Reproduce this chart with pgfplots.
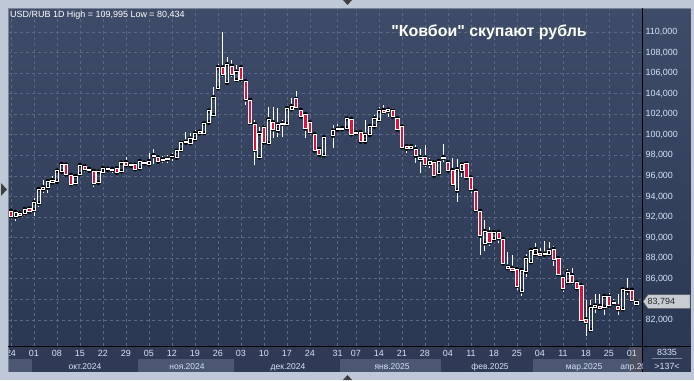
\documentclass[border=0pt]{standalone}
\usepackage{fontspec}
\setmainfont{Liberation Sans}
\usepackage{pgfplots}
\usepackage{pgfplotstable}
\pgfplotsset{compat=1.18}
\definecolor{outergray}{RGB}{190,200,214}
\definecolor{framegray}{RGB}{120,132,152}
\definecolor{bgtop}{RGB}{63,76,105}
\definecolor{bgbot}{RGB}{43,56,84}
\definecolor{gridc}{RGB}{90,104,134}
\definecolor{candred}{RGB}{222,18,58}
\definecolor{rowdark}{RGB}{47,59,86}
\definecolor{rowlight}{RGB}{75,87,115}
\definecolor{aprcol}{RGB}{78,80,98}
\definecolor{ticktext}{RGB}{212,226,246}
\definecolor{pricebox}{RGB}{200,204,211}

\pgfplotstableread{
i o h l c
0 92.60 92.70 92.00 92.11
1 92.05 92.60 91.66 92.50
2 92.37 92.45 92.10 92.17
3 92.37 92.95 92.11 92.79
4 92.86 93.08 92.30 92.53
5 92.69 93.83 92.11 93.44
6 93.34 94.80 93.02 94.73
7 94.70 95.61 94.32 94.90
8 94.87 95.61 94.32 95.51
9 95.35 96.03 95.12 95.61
10 95.45 96.60 95.40 96.52
11 96.42 97.30 96.26 97.17
12 97.10 97.23 95.93 96.13
13 96.10 96.26 95.03 95.19
14 95.29 96.05 95.20 96.00
15 96.16 97.15 96.10 97.07
16 96.94 97.13 96.42 96.65
17 96.52 96.90 96.42 96.68
18 96.49 96.52 94.90 95.29
19 95.35 96.58 95.22 96.42
20 96.39 96.90 96.26 96.78
21 96.62 96.75 96.55 96.71
22 96.58 96.70 96.26 96.68
23 96.74 96.80 96.25 96.32
24 96.45 97.35 96.40 97.30
25 97.36 97.81 96.97 97.04
26 97.00 97.23 96.84 97.10
27 97.10 97.15 96.60 96.65
28 96.74 97.62 96.68 97.46
29 97.20 97.35 97.15 97.30
30 97.13 98.20 97.07 97.46
31 97.94 98.59 97.13 98.04
32 97.81 97.94 97.29 97.39
33 97.55 97.94 97.23 97.62
34 97.62 98.04 97.23 97.68
35 97.88 98.20 97.49 97.94
36 97.78 98.50 97.70 98.46
37 98.53 99.50 98.46 99.24
38 99.24 100.31 99.18 99.34
39 99.18 100.20 99.18 99.63
40 99.56 100.47 99.50 100.15
41 100.15 100.47 100.00 100.30
42 100.15 101.28 99.99 101.12
43 101.19 102.48 101.06 102.35
44 101.93 104.69 101.77 103.65
45 104.52 106.90 104.40 106.57
46 106.57 110.00 105.60 105.90
47 105.07 107.54 105.00 106.86
48 106.70 107.28 105.66 105.92
49 105.33 106.80 105.17 106.14
50 106.57 106.70 105.17 105.40
51 105.20 105.20 102.90 103.45
52 103.39 103.55 100.90 101.12
53 101.02 101.45 97.07 98.53
54 97.81 100.80 97.72 100.15
55 100.70 100.96 99.04 99.24
56 99.18 102.70 99.12 101.51
57 101.22 102.67 99.67 100.54
58 100.41 102.64 99.83 101.00
59 101.05 101.45 99.76 101.12
60 101.06 102.70 100.90 102.58
61 102.50 103.62 102.42 102.80
62 103.50 104.26 102.58 102.68
63 102.42 102.58 101.54 101.77
64 102.03 102.10 99.67 100.60
65 101.22 101.45 99.99 100.25
66 100.05 100.15 98.27 98.46
67 98.60 98.85 97.90 98.05
68 97.98 99.76 97.72 99.76
70 99.92 101.00 98.69 100.41
71 100.50 101.10 100.30 100.60
72 100.55 100.70 100.47 100.65
73 100.63 101.85 100.47 101.60
74 101.54 101.77 99.90 100.05
75 100.15 100.25 100.10 100.22
76 100.25 100.47 99.24 99.34
77 99.34 101.44 99.24 100.00
78 100.00 100.90 99.90 100.86
79 100.80 101.93 100.73 101.60
80 101.44 102.74 101.44 102.35
81 102.42 102.90 101.93 102.20
82 102.30 102.50 101.77 102.45
83 102.35 102.58 101.70 101.77
84 101.60 101.77 100.47 100.50
85 100.80 100.80 98.69 98.80
86 98.90 99.08 98.20 98.65
87 98.70 99.10 98.60 98.90
88 98.60 99.00 97.23 97.97
89 97.62 98.60 96.32 97.81
90 97.80 99.00 96.90 97.17
91 97.17 97.72 96.74 97.40
92 97.33 97.56 95.93 96.03
93 96.26 97.60 96.10 97.46
94 97.75 99.10 97.40 97.85
95 97.33 97.56 96.42 96.52
96 96.58 97.72 94.96 95.19
97 94.57 97.62 93.50 96.65
98 96.52 97.39 95.93 97.13
99 97.23 97.46 95.77 95.84
100 95.87 96.10 94.32 94.70
101 94.54 94.57 92.53 92.69
102 92.60 92.60 88.32 90.20
103 89.45 91.72 88.74 90.65
104 90.52 91.00 89.22 89.55
105 89.84 90.58 89.78 90.55
106 90.55 90.65 89.52 89.94
107 89.84 89.94 87.35 87.51
108 87.02 88.64 86.93 87.18
109 87.06 88.32 86.80 86.83
110 86.93 86.93 84.92 85.30
111 84.80 87.03 84.37 86.86
112 86.70 88.42 86.21 88.00
113 87.61 88.87 87.60 88.81
114 88.42 89.45 88.22 88.90
115 88.50 88.97 88.09 88.32
116 88.35 89.68 88.25 88.45
117 88.40 89.60 88.30 88.74
118 88.90 89.20 87.28 87.93
119 87.99 88.03 86.37 86.47
120 86.15 86.21 84.76 85.08
121 85.66 87.00 85.57 86.60
122 86.37 87.09 85.40 85.66
123 85.63 85.73 84.92 85.08
124 85.37 85.40 81.90 82.00
125 82.06 83.95 80.43 81.80
126 81.03 83.95 80.97 83.23
127 83.23 84.50 82.65 83.40
128 83.36 84.50 83.04 83.14
129 83.23 84.50 82.49 84.34
130 84.27 84.66 83.23 83.40
131 83.60 84.00 83.36 83.70
132 83.30 84.50 82.49 83.04
133 83.04 85.18 82.97 84.98
134 84.86 86.05 84.43 84.92
135 84.92 85.08 83.88 83.95
136 83.55 84.00 83.45 83.79
}\candles

\begin{document}
\begin{tikzpicture}[x=1bp,y=1bp]
\useasboundingbox (0,0) rectangle (694,380);
\fill[outergray] (0,0) rectangle (694,380);
% bottom rows
\fill[rowdark] (8,8) rectangle (691,34);
\fill[rowlight] (8,8) rectangle (31.7,21);
\fill[rowlight] (137.5,8) rectangle (234,21);
\fill[rowlight] (340,8) rectangle (441,21);
\fill[rowlight] (533,8) rectangle (630,21);
\fill[aprcol] (630,8) rectangle (642,34);
% right panel
\shade[top color=bgtop, bottom color=bgbot] (642,34) rectangle (691,372);

\begin{axis}[
  at={(8bp,34bp)}, anchor=south west,
  scale only axis, width=634bp, height=338bp,
  xmin=-0.65, xmax=137.2, ymin=79.47, ymax=112.33,
  axis line style={draw=none},
  axis background/.style={shade, top color=bgtop, bottom color=bgbot},
  major tick length=0pt,
  grid=major,
  major grid style={gridc, dash pattern=on 3bp off 3bp, line width=0.7bp},
  xtick={0,5,10,15,20,25,30,35,40,45,50,55,60,65,71,75,80,85,90,95,100,105,110,115,120,125,130,135},
  xticklabels={24,01,08,15,22,29,05,12,19,26,03,10,17,24,31,07,14,21,28,04,11,18,25,04,11,18,25,01},
  xticklabel style={anchor=base, yshift=-10.5bp, font=\fontsize{9}{10}\selectfont, text=ticktext},
  ytick={82,84,...,110},
  yticklabels={{82,000},{},{86,000},{88,000},{90,000},{92,000},{94,000},{96,000},{98,000},{100,000},{102,000},{104,000},{106,000},{108,000},{110,000}},
  yticklabel pos=right,
  yticklabel style={anchor=west, font=\fontsize{9}{10}\selectfont, text=ticktext},
]
\addplot[only marks, mark=none, error bars/.cd, y dir=plus, y explicit, error mark=none,
  error bar style={draw=white, line width=0.8bp, solid}]
  table[x=i, y expr={max(\thisrow{o},\thisrow{c})}, y error expr={\thisrow{h}-max(\thisrow{o},\thisrow{c})}] {\candles};
\addplot[only marks, mark=none, error bars/.cd, y dir=minus, y explicit, error mark=none,
  error bar style={draw=white, line width=0.8bp, solid}]
  table[x=i, y expr={min(\thisrow{o},\thisrow{c})}, y error expr={min(\thisrow{o},\thisrow{c})-\thisrow{l}}] {\candles};
\end{axis}

\begin{axis}[
  at={(8bp,34bp)}, anchor=south west,
  scale only axis, width=634bp, height=338bp,
  xmin=-0.65, xmax=137.2, ymin=79.47, ymax=112.33,
  hide axis, ybar stacked, bar width=3.2bp,
]
\addplot[draw=none, fill=none] table[x=i, y expr={min(\thisrow{o},\thisrow{c})}] {\candles};
\addplot[draw=white, fill=candred, line width=0.8bp] table[x=i, y expr={max(\thisrow{o}-\thisrow{c},0)}] {\candles};
\addplot[draw=white, fill=none, line width=0.8bp] table[x=i, y expr={max(\thisrow{c}-\thisrow{o},0)}] {\candles};
\end{axis}

% left gray strip and frame lines
\fill[outergray] (0,0) rectangle (8,380);
\fill[outergray] (0,372) rectangle (694,380);
\fill[outergray] (691,0) rectangle (694,380);
\draw[framegray, line width=0.8bp] (8,8) -- (8,372) -- (691,372);
\draw[black, line width=1bp] (642,8) -- (642,372);
\draw[black, line width=1bp] (8,34) -- (691,34);

% month labels
\begin{scope}
\clip (8,8) rectangle (642,21);
\foreach \xx/\tt in {85/окт.2024, 187/ноя.2024, 288/дек.2024, 392/янв.2025, 490/фев.2025, 584/мар.2025, 638/апр.2025}
  \node[text=ticktext, font=\fontsize{8.5}{9}\selectfont, anchor=base] at (\xx,11) {\tt};
\end{scope}

% right bottom cell
\node[text=ticktext, font=\fontsize{9}{10}\selectfont, anchor=base] at (667,24.5) {8335};
\draw[framegray, line width=0.6bp] (652,21.5) -- (682,21.5);
\node[text=ticktext, font=\fontsize{9}{10}\selectfont, anchor=base] at (667,10.5) {>137<};

% price label
\filldraw[fill=pricebox, draw=gray!70!black, line width=0.5bp] (643,78.4) -- (648,85.4) -- (690,85.4) -- (690,71.4) -- (648,71.4) -- cycle;
\node[text=black!85, font=\fontsize{9}{10}\selectfont, anchor=west, inner sep=0pt] at (647.5,78.4) {83,794};

% titles
\node[text=white, font=\fontsize{9}{10}\selectfont, anchor=west, inner sep=0pt] at (10,365) {USD/RUB 1D High = 109,995 Low = 80,434};
\node[text=white, font=\bfseries\fontsize{16}{18}\selectfont, anchor=center, inner sep=0pt] at (489,348) {\textquotedbl Ковбои\textquotedbl{} скупают рубль};

% crosshair pointers
\fill[black!75] (1,184) -- (7,190.5) -- (1,197) -- cycle;
\fill[black!75] (343,380) -- (352,380) -- (347.5,375) -- cycle;
\fill[black!75] (343,0) -- (352,0) -- (347.5,5) -- cycle;
\end{tikzpicture}
\end{document}
